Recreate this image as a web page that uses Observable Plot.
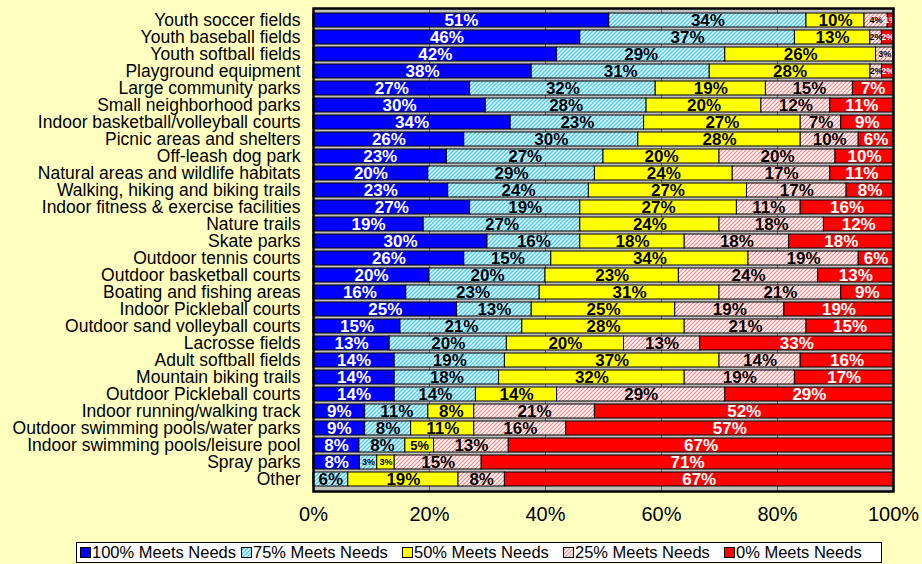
<!DOCTYPE html>
<html><head><meta charset="utf-8">
<script src="https://cdn.jsdelivr.net/npm/d3@7"></script>
<script src="https://cdn.jsdelivr.net/npm/@observablehq/plot@0.6"></script>
<style>
html,body{margin:0;padding:0;background:#FFFFC0;}
#wrap{position:relative;width:922px;height:564px;overflow:hidden;font-family:"Liberation Sans",Arial,sans-serif;}
#legend{position:absolute;left:76px;top:542px;width:806px;height:21px;box-sizing:border-box;border:1px solid #000;background:#fff;display:flex;align-items:center;font-size:16.5px;padding-left:3px;white-space:nowrap;color:#000}
.item{display:flex;align-items:center;flex:0 0 161px}
.item svg{margin-right:1px;display:block}
</style></head><body><div id="wrap"><div id="chart"></div><div id="legend"></div></div>
<script>
const categories = ["Youth soccer fields","Youth baseball fields","Youth softball fields","Playground equipment","Large community parks","Small neighborhood parks","Indoor basketball/volleyball courts","Picnic areas and shelters","Off-leash dog park","Natural areas and wildlife habitats","Walking, hiking and biking trails","Indoor fitness & exercise facilities","Nature trails","Skate parks","Outdoor tennis courts","Outdoor basketball courts","Boating and fishing areas","Indoor Pickleball courts","Outdoor sand volleyball courts","Lacrosse fields","Adult softball fields","Mountain biking trails","Outdoor Pickleball courts","Indoor running/walking track","Outdoor swimming pools/water parks","Indoor swimming pools/leisure pool","Spray parks","Other"];
const pct100 = [51,46,42,38,27,30,34,26,23,20,23,27,19,30,26,20,16,25,15,13,14,14,14,9,9,8,8,0];
const pct75  = [34,37,29,31,32,28,23,30,27,29,24,19,27,16,15,20,23,13,21,20,19,18,14,11,8,8,3,6];
const pct50  = [10,13,26,28,19,20,27,28,20,24,27,27,24,18,34,23,31,25,28,20,37,32,14,8,11,5,3,19];
const pct25  = [4,2,3,2,15,12,7,10,20,17,17,11,18,18,19,24,21,19,21,13,14,19,29,21,16,13,15,8];
const pct0   = [1,2,0,2,7,11,9,6,10,11,8,16,12,18,6,13,9,19,15,33,16,17,29,52,57,67,71,67];
const seriesNames = ["100% Meets Needs","75% Meets Needs","50% Meets Needs","25% Meets Needs","0% Meets Needs"];
const seriesFills = ["#0000FF","url(#hatch75)","#FFFF00","url(#hatch25)","#FF0000"];
const whiteLabelSeries = new Set([seriesNames[0], seriesNames[4]]);
const tickValues = [0, 0.2, 0.4, 0.6, 0.8, 1];
const tickLabels = ["0%","20%","40%","60%","80%","100%"];

const seriesValues = [pct100, pct75, pct50, pct25, pct0];
const data = [];
categories.forEach((c, i) => seriesValues.forEach((arr, j) => {
  if (arr[i] > 0) data.push({category: c, series: seriesNames[j], value: arr[i]});
}));

const labelSize = v => v <= 4 ? 9 : (v === 5 ? 13 : 17);
const stackOpts = {x: "value", y: "category", z: "series", offset: "normalize"};

const chart = Plot.plot({
  width: 922, height: 535,
  marginLeft: 313, marginRight: 29, marginTop: 8, marginBottom: 44,
  style: {background: "transparent", fontFamily: "'Liberation Sans', Arial, sans-serif", fontSize: "17px", color: "#000", overflow: "visible"},
  x: {domain: [0, 1], ticks: tickValues, tickFormat: d => tickLabels[tickValues.findIndex(t => Math.abs(t - d) < 1e-9)], tickSize: 0, tickPadding: 15, label: null},
  y: {domain: categories, tickSize: 0, tickPadding: 13, label: null, paddingInner: 0.18, paddingOuter: 0.09},
  color: {domain: seriesNames, range: seriesFills},
  marks: [
    Plot.frame({fill: "#c0c0c0"}),
    Plot.ruleX(tickValues, {stroke: "#606060", strokeWidth: 1}),
    Plot.barX(data, Plot.stackX({...stackOpts, fill: "series", stroke: "#000", strokeWidth: 1})),
    Plot.text(data, Plot.stackX({...stackOpts, text: d => whiteLabelSeries.has(d.series) ? d.value + "%" : "", fill: "white", fontWeight: "bold", fontSize: d => labelSize(d.value)})),
    Plot.text(data, Plot.stackX({...stackOpts, text: d => whiteLabelSeries.has(d.series) ? "" : d.value + "%", fill: "#000", fontWeight: "bold", fontSize: d => labelSize(d.value)})),
    Plot.frame({stroke: "#000", strokeWidth: 2.5})
  ]
});

d3.select(chart).insert("defs", ":first-child").html(`
<pattern id="hatch75" patternUnits="userSpaceOnUse" width="4" height="4">
  <rect width="4" height="4" fill="#fff"/>
  <path d="M-1,1 l2,-2 M0,4 l4,-4 M3,5 l2,-2" stroke="#33CCFF" stroke-width="1.4"/>
</pattern>
<pattern id="hatch25" patternUnits="userSpaceOnUse" width="4" height="4">
  <rect width="4" height="4" fill="#fff"/>
  <path d="M-1,1 l2,-2 M0,4 l4,-4 M3,5 l2,-2" stroke="#FF8080" stroke-width="1.2"/>
</pattern>`);

d3.select(chart).selectAll('g[aria-label^="x-axis"] text').attr("font-size", 20);
d3.select(chart).selectAll('g[aria-label^="y-axis"] text').attr("font-size", 17.5);

document.getElementById("chart").appendChild(chart);

const legend = d3.select("#legend");
seriesNames.forEach((name, j) => {
  const item = legend.append("div").attr("class", "item");
  item.append("svg").attr("width", 11).attr("height", 11)
    .append("rect").attr("x", 0.5).attr("y", 0.5).attr("width", 10).attr("height", 10)
    .attr("fill", seriesFills[j]).attr("stroke", "#000").attr("stroke-width", 1);
  item.append("span").text(name);
});
</script>
</body></html>
